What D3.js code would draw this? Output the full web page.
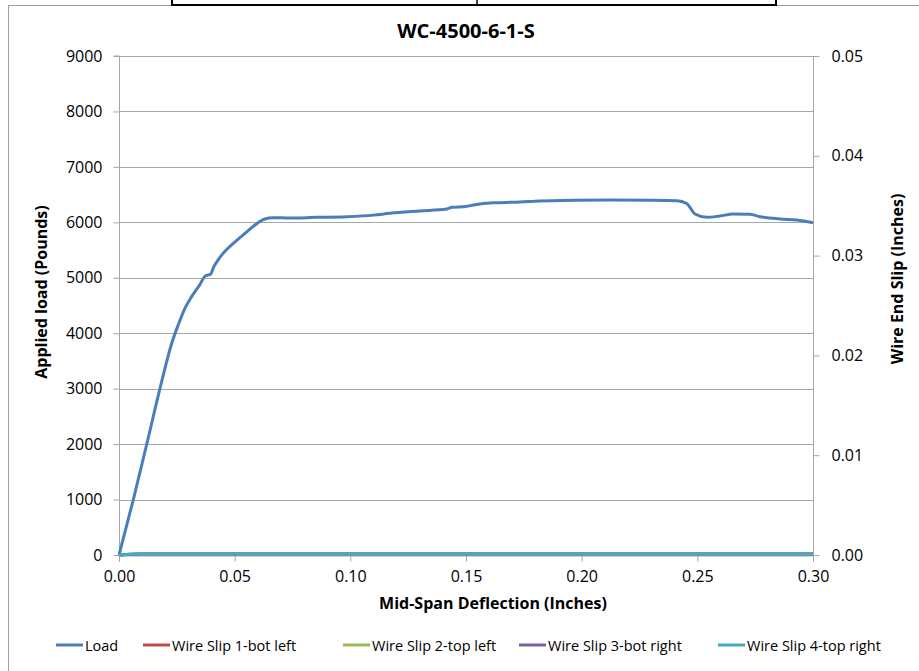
<!DOCTYPE html>
<html><head><meta charset="utf-8">
<script src="https://cdn.jsdelivr.net/npm/d3@7"></script>
<style>body{margin:0;background:#fff;} text{font-family:"Open Sans",sans-serif;fill:#000;}</style>
</head><body><svg id="c" width="919" height="671"></svg>
<script>
const title = "WC-4500-6-1-S";
const xTicks = [0, 0.05, 0.10, 0.15, 0.20, 0.25, 0.30];
const yTicks = [0,1000,2000,3000,4000,5000,6000,7000,8000,9000];
const y2Ticks = [0,0.01,0.02,0.03,0.04,0.05];
const deflection = [0,0.0062,0.0120,0.0177,0.0228,0.0256,0.0285,0.0314,0.0350,0.0372,0.0385,0.0395,0.0410,0.0428,0.0450,0.0494,0.0550,0.0600,0.0630,0.0667,0.0739,0.0850,0.0984,0.1100,0.1171,0.1300,0.1417,0.1440,0.1500,0.1532,0.1618,0.1733,0.1820,0.2122,0.2300,0.2411,0.2454,0.2490,0.2540,0.2597,0.2655,0.2727,0.2771,0.2858,0.2930,0.3000];
const load = [0,1000,2000,3000,3820,4150,4450,4660,4880,5030,5050,5060,5200,5320,5440,5620,5820,5990,6060,6084,6078,6090,6102,6130,6163,6205,6240,6270,6285,6313,6354,6365,6385,6403,6400,6390,6340,6150,6091,6114,6150,6145,6102,6060,6042,5993];
const slipDefl = [0,0.01,0.05,0.10,0.15,0.20,0.25,0.30];
const slip1 = [0,0.0001,0.0001,0.0001,0.0001,0.0001,0.0001,0.0001];
const slip2 = [0,0.0001,0.0001,0.0001,0.0001,0.0001,0.0001,0.0001];
const slip3 = [0,0.0001,0.0001,0.0001,0.0001,0.0001,0.0001,0.0001];
const slip4 = [0,0.0001,0.0001,0.0001,0.0001,0.0001,0.0001,0.0001];
const seriesNames = ["Load","Wire Slip 1-bot left","Wire Slip 2-top left","Wire Slip 3-bot right","Wire Slip 4-top right"];
const colors = ["#4a7ebb","#be4b48","#98b954","#7d60a0","#46aac5"];

const svg = d3.select("#c");
const L=119,R=813,T=56,B=555;
const x = d3.scaleLinear().domain([0,0.3]).range([L,R]);
const y = d3.scaleLinear().domain([0,9000]).range([B,T]);
const y2 = d3.scaleLinear().domain([0,0.05]).range([B,T]);
const grid="#a6a6a6";

// frame
svg.append("rect").attr("x",8.5).attr("y",5.5).attr("width",1000).attr("height",1000).attr("fill","none").attr("stroke","#a0a0a0");
// top box fragment
svg.append("rect").attr("x",172).attr("y",-5).attr("width",604).attr("height",10).attr("fill","#fff").attr("stroke","#000").attr("stroke-width",2);
svg.append("line").attr("x1",477).attr("x2",477).attr("y1",0).attr("y2",5).attr("stroke","#000").attr("stroke-width",1.5);

svg.append("text").attr("x",466).attr("y",38).attr("text-anchor","middle").attr("font-weight","bold").attr("font-size",20).text(title);

// gridlines
svg.append("g").selectAll("line").data(yTicks.filter(d=>d>0)).join("line")
 .attr("x1",L).attr("x2",R).attr("y1",d=>Math.round(y(d))+0.5).attr("y2",d=>Math.round(y(d))+0.5).attr("stroke",grid);

const fmtY=d3.format("d");
const ax = svg.append("g").attr("transform",`translate(${L+0.5},0)`).call(d3.axisLeft(y).tickValues(yTicks).tickFormat(fmtY).tickSize(6).tickPadding(11));
const ax2 = svg.append("g").attr("transform",`translate(${R+0.5},0)`).call(d3.axisRight(y2).tickValues(y2Ticks).tickFormat(d3.format(".2f")).tickSize(6).tickPadding(12));
const axx = svg.append("g").attr("transform",`translate(0,${B+0.5})`).call(d3.axisBottom(x).tickValues(xTicks).tickFormat(d3.format(".2f")).tickSize(6).tickPadding(9));
[ax,ax2,axx].forEach(g=>{g.select(".domain").attr("stroke",grid);g.selectAll(".tick line").attr("stroke",grid);g.selectAll("text").attr("font-size",16).attr("fill","#000").style("font-family","'Open Sans',sans-serif");});
ax.select(".domain").attr("d",`M-6,${T}H0V${B+6}`);
ax2.select(".domain").attr("d",`M0,${T}V${B+6}`);

// lines
const line = d3.line().x(d=>x(d[0])).y(d=>d[2]==="L"?y(d[1]):y2(d[1])).curve(d3.curveMonotoneX);
const loadData = deflection.map((d,i)=>[d,load[i],"L"]);
const slips=[slip1,slip2,slip3,slip4];
const gL = svg.append("g");
gL.append("path").datum(loadData).attr("d",line).attr("fill","none").attr("stroke",colors[0]).attr("stroke-width",3).attr("stroke-linejoin","round");
slips.forEach((s,k)=>{
 gL.append("path").datum(slipDefl.map((d,i)=>[d,s[i],"S"])).attr("d",line).attr("fill","none").attr("stroke",colors[k+1]).attr("stroke-width",2.8);
});

// axis titles
svg.append("text").attr("x",493).attr("y",609).attr("text-anchor","middle").attr("font-weight","bold").attr("font-size",16).text("Mid-Span Deflection (Inches)");
svg.append("text").attr("transform","translate(47,292) rotate(-90)").attr("text-anchor","middle").attr("font-weight","bold").attr("font-size",16).text("Applied load (Pounds)");
svg.append("text").attr("transform","translate(903,279) rotate(-90)").attr("text-anchor","middle").attr("font-weight","bold").attr("font-size",16).text("Wire End Slip (Inches)");

// legend
const legX=[56,143,343,519,718];
const lg = svg.append("g");
seriesNames.forEach((n,i)=>{
 lg.append("line").attr("x1",legX[i]).attr("x2",legX[i]+27).attr("y1",645).attr("y2",645).attr("stroke",colors[i]).attr("stroke-width",3);
 lg.append("text").attr("x",legX[i]+29).attr("y",650.5).attr("font-size",14.5).text(n);
});
</script></body></html>
